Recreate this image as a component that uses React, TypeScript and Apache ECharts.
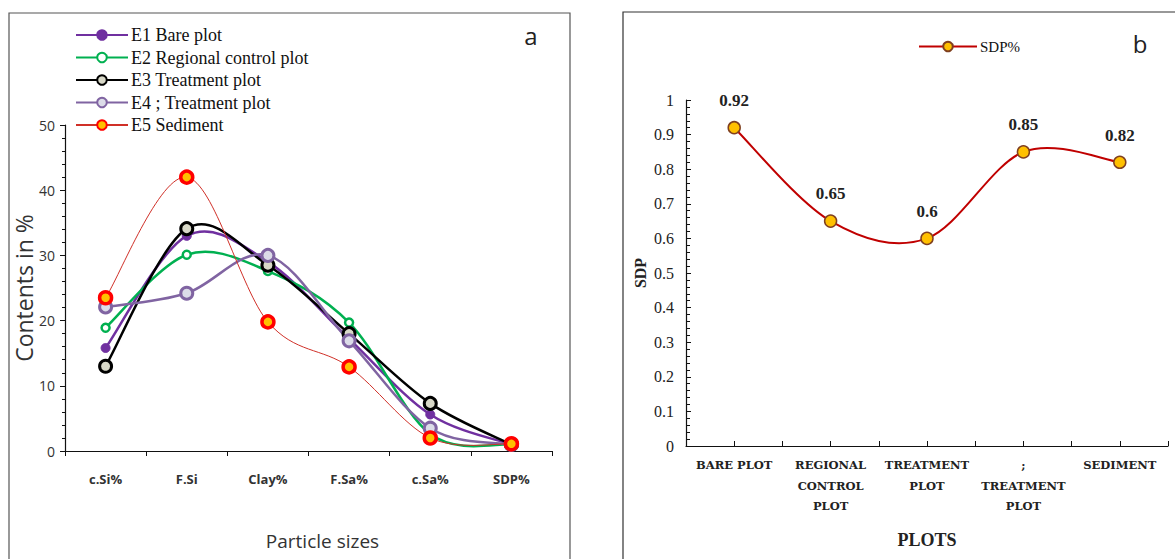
import React, { useEffect, useRef } from "react";
import * as echarts from "echarts";

const particleCats = ["c.Si%", "F.Si", "Clay%", "F.Sa%", "c.Sa%", "SDP%"];
const e1Bare = [15.8, 33.0, 29.0, 17.2, 5.6, 1.0];
const e2Regional = [18.9, 30.1, 27.6, 19.7, 2.6, 1.0];
const e3Treatment = [13.0, 34.1, 28.5, 18.0, 7.3, 1.0];
const e4Treatment = [22.1, 24.2, 30.0, 16.9, 3.5, 1.0];
const e5Sediment = [23.5, 42.0, 19.8, 12.9, 2.0, 1.1];
const leftTicks = { min: 0, max: 50, interval: 10 };

const plotCats = ["BARE PLOT", "REGIONAL\nCONTROL\nPLOT", "TREATMENT\nPLOT", ";\nTREATMENT\nPLOT", "SEDIMENT"];
const sdpValues = [0.92, 0.65, 0.6, 0.85, 0.82];
const rightTicks = { min: 0, max: 1, interval: 0.1 };

const serif = "'Liberation Serif', 'Times New Roman', serif";
const sans = "'Open Sans', 'Liberation Sans', sans-serif";

// Excel-like smooth curve (Catmull-Rom → cubic Bézier) through points given by the axes
function curveSeries(name: string, values: number[], xi: number, yi: number, color: string, width: number, z: number) {
  return {
    name,
    type: "custom",
    xAxisIndex: xi,
    yAxisIndex: yi,
    z,
    silent: true,
    data: values.map((v, i) => [i, v]),
    encode: { x: 0, y: 1 },
    renderItem: (params: any, api: any) => {
      if (params.dataIndex !== 0) return null;
      const pts = values.map((v, i) => api.coord([i, v]));
      const n = pts.length;
      const P = (k: number) => pts[Math.max(0, Math.min(n - 1, k))];
      let d = `M${pts[0][0]},${pts[0][1]}`;
      for (let i = 0; i < n - 1; i++) {
        const p0 = P(i - 1), p1 = P(i), p2 = P(i + 1), p3 = P(i + 2);
        const c1x = p1[0] + (p2[0] - p0[0]) / 6;
        const c1y = p1[1] + (p2[1] - p0[1]) / 6;
        const c2x = p2[0] - (p3[0] - p1[0]) / 6;
        const c2y = p2[1] - (p3[1] - p1[1]) / 6;
        d += ` C${c1x},${c1y} ${c2x},${c2y} ${p2[0]},${p2[1]}`;
      }
      return {
        type: "path",
        shape: { pathData: d },
        style: { fill: "none", stroke: color, lineWidth: width, lineJoin: "round", lineCap: "round" },
      };
    },
  };
}

export default function App() {
  const ref = useRef<HTMLDivElement>(null);
  useEffect(() => {
    if (!ref.current) return;
    const chart = echarts.init(ref.current, null, { renderer: "svg" });
    const mk = (
      name: string,
      data: number[],
      color: string,
      width: number,
      symFill: string,
      symBorder: string,
      symBorderW: number,
      size: number
    ) => ({
      name,
      type: "line",
      xAxisIndex: 0,
      yAxisIndex: 0,
      z: 5,
      data,
      symbol: "circle",
      symbolSize: size,
      lineStyle: { color, width, opacity: 0 },
      itemStyle: { color: symFill, borderColor: symBorder, borderWidth: symBorderW },
      emphasis: { disabled: true },
    });
    chart.setOption({
      animation: false,
      backgroundColor: "#ffffff",
      graphic: [
        { type: "rect", shape: { x: 9, y: 13, width: 561, height: 570 }, style: { fill: "none", stroke: "#555", lineWidth: 1.2 }, silent: true },
        { type: "rect", shape: { x: 623, y: 12, width: 570, height: 570 }, style: { fill: "none", stroke: "#333", lineWidth: 1.2 }, silent: true },
        { type: "text", x: 531, y: 35, style: { text: "a", font: "24px " + sans, fill: "#222", align: "center", verticalAlign: "middle" } },
        { type: "text", x: 1140, y: 43, style: { text: "b", font: "24px " + sans, fill: "#222", align: "center", verticalAlign: "middle" } },
      ],
      legend: [
        {
          data: ["E1 Bare plot", "E2 Regional control plot", "E3 Treatment plot", "E4 ; Treatment plot", "E5 Sediment"],
          orient: "vertical",
          left: 70,
          top: 21,
          itemWidth: 52,
          itemHeight: 12,
          itemGap: 4.5,
          lineStyle: { opacity: 1 },
          textStyle: { fontFamily: serif, fontSize: 18, color: "#111", lineHeight: 18, padding: [0, 0, 0, -2] },
          selectedMode: false,
        },
        {
          data: ["SDP%"],
          orient: "vertical",
          left: 913,
          top: 34,
          itemWidth: 58,
          itemHeight: 12,
          lineStyle: { opacity: 1 },
          textStyle: { fontFamily: serif, fontSize: 15, color: "#111", padding: [0, 0, 0, -2] },
          selectedMode: false,
        },
      ],
      grid: [
        { left: 65, right: 623, top: 125, bottom: 108 },
        { left: 686, right: 7, top: 100, bottom: 113 },
      ],
      xAxis: [
        {
          gridIndex: 0,
          type: "category",
          data: particleCats,
          boundaryGap: true,
          axisLine: { lineStyle: { color: "#111", width: 1.2 } },
          axisTick: { show: true, length: 5, inside: false, lineStyle: { color: "#111" } },
          axisLabel: { fontFamily: sans, fontWeight: "bold", fontSize: 13, color: "#333", margin: 21 },
          name: "Particle sizes",
          nameLocation: "middle",
          nameGap: 80,
          nameTextStyle: { fontFamily: sans, fontSize: 19, color: "#333", padding: [0, 0, 0, 28] },
        },
        {
          gridIndex: 1,
          type: "category",
          data: plotCats,
          boundaryGap: true,
          axisLine: { lineStyle: { color: "#111", width: 1.2 } },
          axisTick: { show: true, length: 5, inside: true, lineStyle: { color: "#111" } },
          axisLabel: { fontFamily: "'DejaVu Serif', serif", fontWeight: "bold", fontSize: 11.5, color: "#222", margin: 9, lineHeight: 20.5, interval: 0 },
          name: "PLOTS",
          nameLocation: "middle",
          nameGap: 85,
          nameTextStyle: { fontFamily: serif, fontSize: 18, fontWeight: "bold", color: "#222" },
        },
        {
          gridIndex: 1,
          type: "category",
          data: plotCats,
          boundaryGap: true,
          position: "bottom",
          axisLine: { show: false },
          axisTick: { show: true, length: 5, inside: true, alignWithLabel: true, lineStyle: { color: "#111" } },
          axisLabel: { show: false },
        },
      ],
      yAxis: [
        {
          gridIndex: 0,
          type: "value",
          min: leftTicks.min,
          max: leftTicks.max,
          interval: leftTicks.interval,
          axisLine: { show: true, lineStyle: { color: "#111", width: 1.2 } },
          axisTick: { show: true, length: 5, inside: false, lineStyle: { color: "#111" } },
          minorTick: { show: true, splitNumber: 5, length: 3, lineStyle: { color: "#111" } },
          splitLine: { show: false },
          axisLabel: { fontFamily: sans, fontSize: 14, color: "#333", margin: 10 },
          name: "Contents in %",
          nameLocation: "middle",
          nameGap: 29,
          nameTextStyle: { fontFamily: sans, fontSize: 23, color: "#333" },
        },
        {
          gridIndex: 1,
          type: "value",
          min: rightTicks.min,
          max: rightTicks.max,
          interval: rightTicks.interval,
          axisLine: { show: true, lineStyle: { color: "#111", width: 1.2 } },
          axisTick: { show: true, length: 5, inside: true, lineStyle: { color: "#111" } },
          minorTick: { show: true, splitNumber: 5, length: 4, lineStyle: { color: "#111" } },
          splitLine: { show: false },
          axisLabel: { fontFamily: serif, fontSize: 16, color: "#222", margin: 12 },
          name: "SDP",
          nameLocation: "middle",
          nameGap: 38,
          nameTextStyle: { fontFamily: serif, fontSize: 16, fontWeight: "bold", color: "#222" },
        },
      ],
      series: [
        curveSeries("E1 curve", e1Bare, 0, 0, "#7030A0", 2.5, 2),
        curveSeries("E2 curve", e2Regional, 0, 0, "#00B050", 2.5, 2),
        curveSeries("E3 curve", e3Treatment, 0, 0, "#000000", 2.5, 2),
        curveSeries("E4 curve", e4Treatment, 0, 0, "#8064A2", 2.5, 2),
        curveSeries("E5 curve", e5Sediment, 0, 0, "#D03028", 1, 2),
        curveSeries("SDP curve", sdpValues, 1, 1, "#C00000", 2, 2),
        mk("E1 Bare plot", e1Bare, "#7030A0", 2.5, "#7030A0", "#7030A0", 1, 9),
        mk("E2 Regional control plot", e2Regional, "#00B050", 2.5, "#ffffff", "#00B050", 2.5, 8),
        mk("E3 Treatment plot", e3Treatment, "#000000", 2.5, "#d8d8c8", "#000000", 3, 12),
        mk("E4 ; Treatment plot", e4Treatment, "#8064A2", 2.5, "#dcdce8", "#8064A2", 3, 12),
        mk("E5 Sediment", e5Sediment, "#D03028", 1, "#FFC000", "#FF0000", 3.5, 12),
        {
          name: "SDP%",
          type: "line",
          xAxisIndex: 1,
          yAxisIndex: 1,
          z: 5,
          data: sdpValues,
          symbol: "circle",
          symbolSize: 12,
          lineStyle: { color: "#C00000", width: 2, opacity: 0 },
          itemStyle: { color: "#FFC000", borderColor: "#7F3F1F", borderWidth: 1.5 },
          label: {
            show: true,
            position: "top",
            distance: 12,
            fontFamily: serif,
            fontWeight: "bold",
            fontSize: 17,
            color: "#222",
          },
          emphasis: { disabled: true },
        },
      ],
    });
    return () => chart.dispose();
  }, []);
  return <div ref={ref} style={{ position: "fixed", left: 0, top: 0, width: 1175, height: 559 }} />;
}
